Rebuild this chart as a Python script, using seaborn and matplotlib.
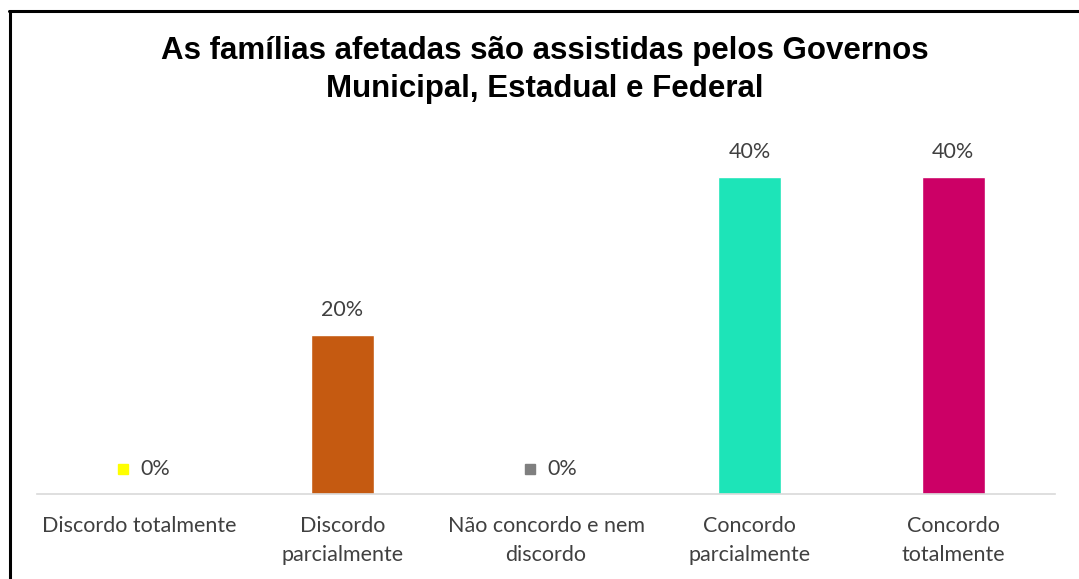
import matplotlib
matplotlib.use("Agg")
import matplotlib.pyplot as plt
from matplotlib.lines import Line2D
import seaborn as sns
import pandas as pd

categories = ["Discordo totalmente", "Discordo\nparcialmente", "Não concordo e nem\ndiscordo",
              "Concordo\nparcialmente", "Concordo\ntotalmente"]
values = [0.0, 0.20, 0.0, 0.40, 0.40]
labels = ["0%", "20%", "0%", "40%", "40%"]
colors = ["#FFFF00", "#C55A11", "#7F7F7F", "#1DE4B8", "#CC0066"]
title = "As famílias afetadas são assistidas pelos Governos\nMunicipal, Estadual e Federal"

sns.set_theme(style="white")
plt.rcParams["font.family"] = ["Lato", "DejaVu Sans"]

df = pd.DataFrame({"cat": categories, "val": values})

fig = plt.figure(figsize=(10.79, 5.79), dpi=100)
ax = fig.add_axes([37/1079, 1-494/579, (1055-37)/1079, (494-137)/579])
sns.barplot(data=df, x="cat", y="val", hue="cat", palette=colors, width=0.31,
            legend=False, ax=ax, saturation=1)
ax.set_ylim(0, 0.45)
ax.set_xlim(-0.5, len(categories)-0.5)
ax.set_yticks([])
ax.set_xlabel("")
ax.set_ylabel("")
for s in ["top", "right", "left"]:
    ax.spines[s].set_visible(False)
ax.spines["bottom"].set_color("#D9D9D9")
ax.spines["bottom"].set_linewidth(1.2)
ax.tick_params(axis="x", length=0, pad=16, labelsize=15.5, labelcolor="#404040")
for t in ax.get_xticklabels():
    t.set_linespacing(1.55)

lab_size = 15.5
for i, (v, lab, c) in enumerate(zip(values, labels, colors)):
    if v == 0:
        ax.annotate(lab, (i, v), xytext=(12, 18), textcoords="offset points",
                    ha="center", va="center", fontsize=lab_size, color="#404040")
        ax.plot([i], [v], marker="s", markersize=7.5, color=c, linestyle="none",
                transform=ax.transData + matplotlib.transforms.ScaledTranslation(-16/100, 25/100, fig.dpi_scale_trans),
                clip_on=False)
    else:
        ax.annotate(lab, (i, v), xytext=(0, 18), textcoords="offset points",
                    ha="center", va="center", fontsize=lab_size, color="#404040")

fig.text(545/1079, 1-70/579, title, ha="center", va="center", fontsize=22.5,
         fontweight="bold", family="Liberation Sans", color="black", linespacing=1.32)

fig.add_artist(Line2D([10/1079, 10/1079], [0, 1-10.5/579], color="black", linewidth=2.2,
                      transform=fig.transFigure))
fig.add_artist(Line2D([9/1079, 1], [1-10.5/579, 1-10.5/579], color="black", linewidth=2.2,
                      transform=fig.transFigure))

fig.savefig("out.png", dpi=100)
